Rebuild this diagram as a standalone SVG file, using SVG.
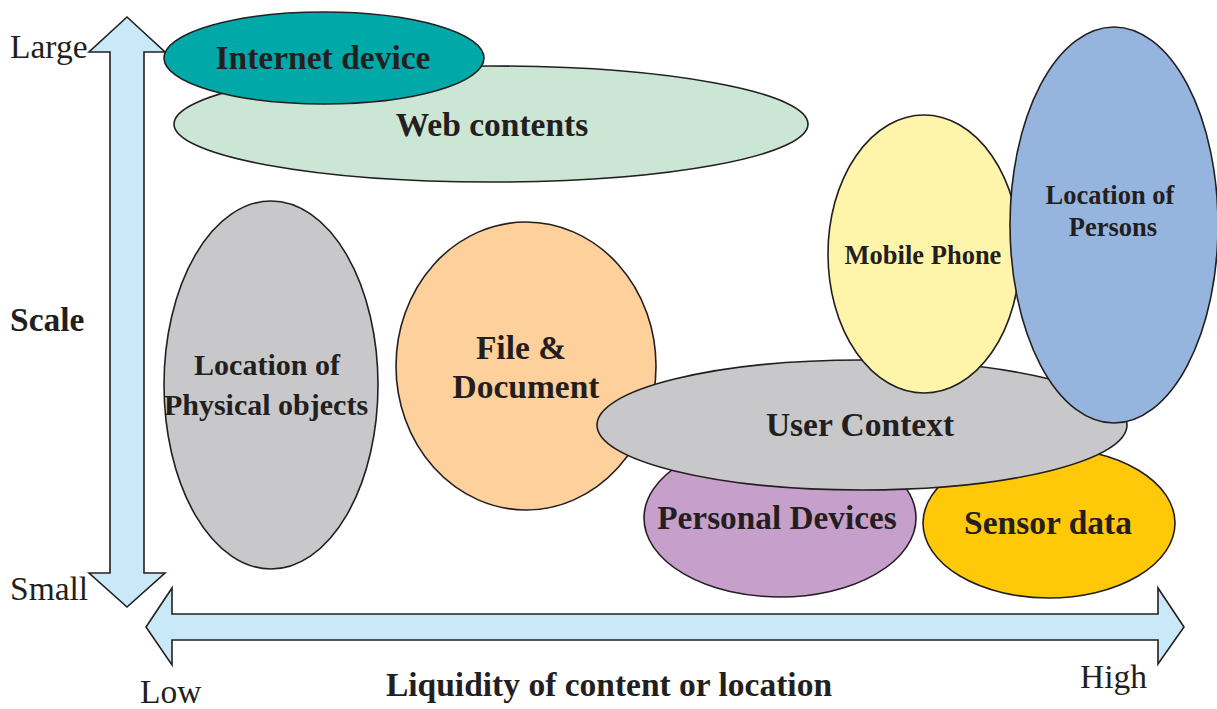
<svg xmlns="http://www.w3.org/2000/svg" width="1217" height="709" viewBox="0 0 1217 709">
  <style>
    .shape { stroke: #231f20; stroke-width: 1.6; }
    .axis { fill: #c9e8f8; stroke: #231f20; stroke-width: 1.6; stroke-linejoin: miter; }
    .lbl { font-family: "Liberation Serif", "Times New Roman", serif; font-weight: bold; fill: #231f20; text-anchor: middle; }
    .end { font-family: "Liberation Serif", "Times New Roman", serif; fill: #231f20; font-size: 33.5px; }
  </style>
  <rect width="1217" height="709" fill="#ffffff"/>

  <!-- axes -->
  <g id="connectors">
    <path class="axis" d="M127,17 L165,52 L144,52 L144,573 L165,573 L127,607 L89,573 L110,573 L110,52 L89,52 Z"/>
    <path class="axis" d="M146,627 L172,588 L172,614 L1158,614 L1158,588 L1184,627 L1158,664 L1158,640 L172,640 L172,665 Z"/>
  </g>

  <!-- axis labels -->
  <text class="end" x="10" y="58">Large</text>
  <text class="end" x="10" y="600">Small</text>
  <text class="end" x="140" y="703">Low</text>
  <text class="end" x="1080" y="688">High</text>
  <text class="lbl" x="10" y="331" font-size="33.5" style="text-anchor:start">Scale</text>
  <text class="lbl" x="609" y="696" font-size="33.5">Liquidity of content or location</text>

  <g id="web-contents">
    <ellipse class="shape" cx="491" cy="124" rx="317" ry="58" fill="#cce6d6"/>
    <text class="lbl" x="492" y="136" font-size="33.5">Web contents</text>
  </g>

  <g id="internet-device">
    <ellipse class="shape" cx="324" cy="58" rx="160" ry="46" fill="#00a8a8"/>
    <text class="lbl" x="323" y="69" font-size="33.5">Internet device</text>
  </g>

  <g id="physical-objects">
    <ellipse class="shape" cx="271" cy="385" rx="107" ry="184" fill="#c8c8ca"/>
    <text class="lbl" x="267" y="375" font-size="30">Location of</text>
    <text class="lbl" x="266" y="415" font-size="30">Physical objects</text>
  </g>

  <g id="file-document">
    <ellipse class="shape" cx="526" cy="366" rx="130" ry="144" fill="#fdd09c"/>
    <text class="lbl" x="521" y="359" font-size="33.5">File &amp;</text>
    <text class="lbl" x="526" y="398" font-size="33.5">Document</text>
  </g>

  <g id="personal-devices">
    <ellipse class="shape" cx="780" cy="518" rx="136" ry="79" fill="#c69fca"/>
    <text class="lbl" x="777" y="529" font-size="33.3">Personal Devices</text>
  </g>

  <g id="sensor-data">
    <ellipse class="shape" cx="1049" cy="523" rx="126" ry="75" fill="#ffc808"/>
    <text class="lbl" x="1048" y="534" font-size="33.5">Sensor data</text>
  </g>

  <g id="user-context">
    <ellipse class="shape" cx="862" cy="425" rx="265" ry="65" fill="#c8c8ca"/>
    <text class="lbl" x="860" y="436" font-size="33.5">User Context</text>
  </g>

  <g id="mobile-phone">
    <ellipse class="shape" cx="924" cy="254" rx="96" ry="139" fill="#fff5aa"/>
    <text class="lbl" x="923" y="264" font-size="26.5">Mobile Phone</text>
  </g>

  <g id="location-persons">
    <ellipse class="shape" cx="1114" cy="225" rx="104" ry="198" fill="#95b4de"/>
    <text class="lbl" x="1110" y="204" font-size="26.5">Location of</text>
    <text class="lbl" x="1113" y="236" font-size="26.5">Persons</text>
  </g>
</svg>
